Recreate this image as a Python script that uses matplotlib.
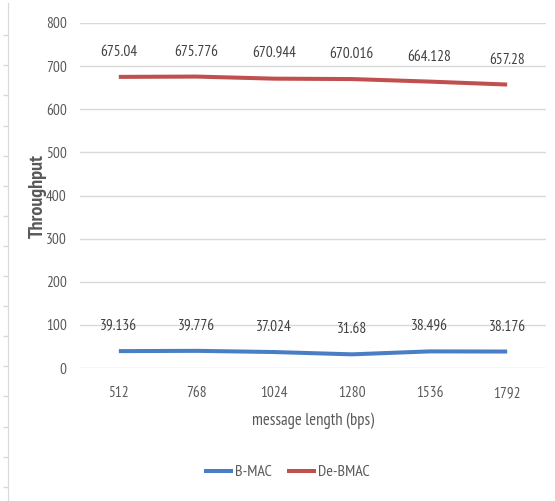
import matplotlib
matplotlib.use("Agg")
import matplotlib.pyplot as plt
import numpy as np

plt.rcParams['font.family'] = ['PT Sans Narrow', 'DejaVu Sans']

# Message lengths (bps) and measured throughput
categories = ["512", "768", "1024", "1280", "1536", "1792"]
bmac = [39.136, 39.776, 37.024, 31.68, 38.496, 38.176]
debmac = [675.04, 675.776, 670.944, 670.016, 664.128, 657.28]
yticks = [0, 100, 200, 300, 400, 500, 600, 700, 800]

W, H = 555, 501
fig = plt.figure(figsize=(W / 100, H / 100), dpi=100)

text_color = "#595959"
grid_color = "#d9d9d9"
blue = "#4a7ec4"
red = "#c0504d"
fs = 11

left, right, top, bottom = 80, 546, 23, 368
ax = fig.add_axes([left / W, 1 - bottom / H, (right - left) / W, (bottom - top) / H])

x = np.arange(len(categories))
ax.plot(x, bmac, color=blue, lw=2.9, solid_capstyle="butt", label="B-MAC")
ax.plot(x, debmac, color=red, lw=2.9, solid_capstyle="butt", label="De-BMAC")

for series in (bmac, debmac):
    for xi, v in zip(x, series):
        ax.annotate(f"{v:g}", (xi, v), xytext=(0, 18), textcoords="offset points",
                    ha="center", va="center", fontsize=fs, color="#404040")

ax.set_xlim(-0.5, len(categories) - 0.5)
ax.set_ylim(0, 800)
ax.set_yticks(yticks)
ax.set_xticks(x)
ax.set_xticklabels(categories)
ax.tick_params(axis="both", length=0, labelsize=fs, labelcolor=text_color)
ax.tick_params(axis="y", pad=9.5)
ax.tick_params(axis="x", pad=13)
ax.grid(axis="y", color=grid_color, lw=1)
ax.set_axisbelow(True)
for s in ax.spines.values():
    s.set_visible(False)

ax.set_ylabel("Throughput", fontsize=14.5, fontweight="bold", color=text_color)
ax.yaxis.set_label_coords(-0.072, 0.5)
ax.set_xlabel("message length (bps)", fontsize=12, color=text_color)
ax.xaxis.set_label_coords(0.5, -0.128)

leg = fig.legend(loc="center", bbox_to_anchor=(287 / W, 1 - 472 / H), ncol=2,
                 frameon=False, fontsize=11.5, handlelength=1.8, columnspacing=0.9,
                 handletextpad=0.15)
for t in leg.get_texts():
    t.set_color(text_color)

# Ruler strip along the left edge
rax = fig.add_axes([7.5 / W, 0, 0.0001, (H - 3) / H])
rax.set_ylim(H, 3)
rax.set_xticks([])
rax.set_yticks(35.2 + 30.1 * np.arange(16))
rax.tick_params(axis="y", length=3.5, width=1, color=grid_color, labelleft=False)
for name, s in rax.spines.items():
    s.set_visible(name == "left")
rax.spines["left"].set_color(grid_color)
rax.patch.set_visible(False)

fig.savefig("out.png", dpi=100)
